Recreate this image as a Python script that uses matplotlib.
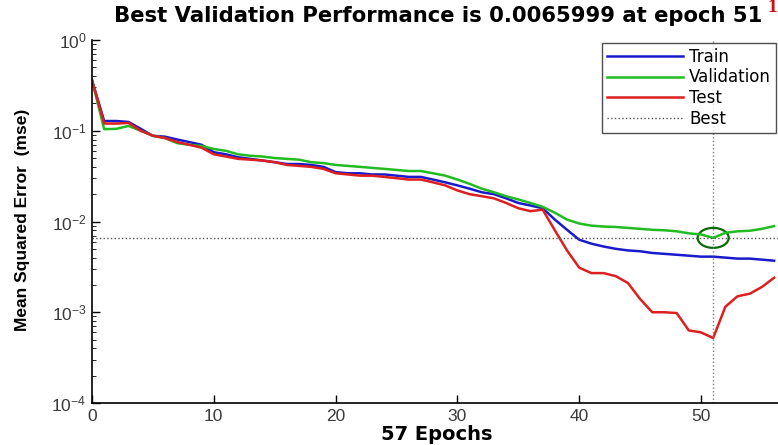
import matplotlib
matplotlib.use("Agg")
import matplotlib.pyplot as plt
import matplotlib.transforms as mtransforms
from matplotlib.patches import Ellipse
from matplotlib.ticker import LogLocator, FixedLocator
import numpy as np

plt.rcParams['font.family'] = ['Liberation Sans', 'DejaVu Sans']
plt.rcParams['mathtext.default'] = 'regular'

epochs = list(range(0, 57))
train = [0.36, 0.128, 0.128, 0.125, 0.105, 0.088, 0.086, 0.080, 0.075, 0.070,
         0.058, 0.055, 0.051, 0.049, 0.047, 0.045, 0.043, 0.043, 0.042, 0.040,
         0.035, 0.034, 0.034, 0.033, 0.033, 0.032, 0.031, 0.031, 0.029, 0.027,
         0.025, 0.023, 0.021, 0.020, 0.018, 0.016, 0.015, 0.014, 0.0105, 0.0081,
         0.0063, 0.0057, 0.0053, 0.0050, 0.0048, 0.0047, 0.0045, 0.0044, 0.0043, 0.0042,
         0.0041, 0.0041, 0.0040, 0.0039, 0.0039, 0.0038, 0.0037]
validation = [0.36, 0.104, 0.105, 0.113, 0.100, 0.088, 0.083, 0.073, 0.070, 0.068,
              0.063, 0.060, 0.055, 0.053, 0.052, 0.050, 0.049, 0.048, 0.045, 0.044,
              0.042, 0.041, 0.040, 0.039, 0.038, 0.037, 0.036, 0.036, 0.034, 0.032,
              0.029, 0.026, 0.023, 0.021, 0.019, 0.0175, 0.016, 0.0145, 0.0125, 0.0105,
              0.0095, 0.0090, 0.0088, 0.0087, 0.0085, 0.0083, 0.0081, 0.0080, 0.0078, 0.0074,
              0.0072, 0.0066, 0.0075, 0.0078, 0.0079, 0.0083, 0.0089]
test = [0.36, 0.12, 0.12, 0.122, 0.100, 0.088, 0.083, 0.075, 0.070, 0.065,
        0.055, 0.052, 0.049, 0.048, 0.047, 0.045, 0.042, 0.041, 0.040, 0.038,
        0.034, 0.033, 0.032, 0.032, 0.031, 0.030, 0.029, 0.029, 0.027, 0.025,
        0.022, 0.020, 0.019, 0.018, 0.016, 0.014, 0.013, 0.0135, 0.0080, 0.0048,
        0.0031, 0.0027, 0.0027, 0.0025, 0.0021, 0.0014, 0.0010, 0.0010, 0.00098, 0.00063,
        0.00060, 0.00052, 0.00115, 0.0015, 0.0016, 0.0019, 0.0024]
best_epoch = 51
best_value = 0.0065999
total_epochs = 57

fig = plt.figure(figsize=(7.78, 4.45), dpi=100)
ax_w = 57 * 12.18
ax = fig.add_axes([92/778, 1-403/445, ax_w/778, (403-40)/445])

ax.semilogy(epochs, train, color='#1a1acc', lw=1.8, label='Train')
ax.semilogy(epochs, validation, color='#22bb22', lw=1.8, label='Validation')
ax.semilogy(epochs, test, color='#dd1f1f', lw=1.8, label='Test')
ax.axhline(best_value, color='#555555', ls=':', lw=1.0, label='Best')
ax.axvline(best_epoch, color='#6a8a6a', ls=':', lw=1.0)

trans = fig.dpi_scale_trans + mtransforms.ScaledTranslation(best_epoch, best_value, ax.transData)
ell = Ellipse((0, 0), width=0.31, height=0.20, fill=False, edgecolor='#0a6a0a', lw=1.6, transform=trans)
ax.add_artist(ell)

ax.set_xlim(0, total_epochs)
ax.set_ylim(1e-4, 1e0)
ax.xaxis.set_major_locator(FixedLocator([0, 10, 20, 30, 40, 50]))
ax.yaxis.set_major_locator(LogLocator(base=10, numticks=10))
ax.yaxis.set_minor_locator(LogLocator(base=10, subs=np.arange(2, 10), numticks=10))
ax.tick_params(axis='both', which='major', direction='in', length=6, width=1,
               labelsize=12.5, labelcolor='#3a3a3a', pad=4)
ax.tick_params(axis='y', which='minor', direction='in', length=3, width=0.6)
ax.spines['top'].set_visible(False)
ax.spines['right'].set_visible(False)
for s in ['left', 'bottom']:
    ax.spines[s].set_linewidth(1.2)

ax.set_xlabel(f'{total_epochs} Epochs', fontsize=14, fontweight='bold', family='DejaVu Sans')
ax.xaxis.set_label_coords((437-92)/ax_w, -(425-403)/363)
ax.set_ylabel('Mean Squared Error  (mse)', fontsize=12.5, fontweight='bold')
ax.yaxis.set_label_coords(-(92-30)/ax_w, 0.5 - (220-221.5)/363)
fig.text(438/778, 1-16/445, f'Best Validation Performance is {best_value} at epoch {best_epoch}',
         ha='center', va='center', fontsize=15.2, fontweight='bold', family='DejaVu Sans')
fig.text(0.999, 1-8/445, '1', color='#cc1111', fontsize=14, fontweight='bold',
         family='Liberation Serif', ha='right', va='center')

leg = ax.legend(loc='upper right', bbox_to_anchor=(776/778, 1-43/445),
                bbox_transform=fig.transFigure, prop={'family': 'DejaVu Sans', 'size': 12},
                handlelength=4.6, handletextpad=0.35, borderpad=0.3, labelspacing=0.15,
                borderaxespad=0, frameon=True, fancybox=False, edgecolor='#222222')
leg.get_frame().set_linewidth(1.0)

fig.savefig('out.png', dpi=100)
